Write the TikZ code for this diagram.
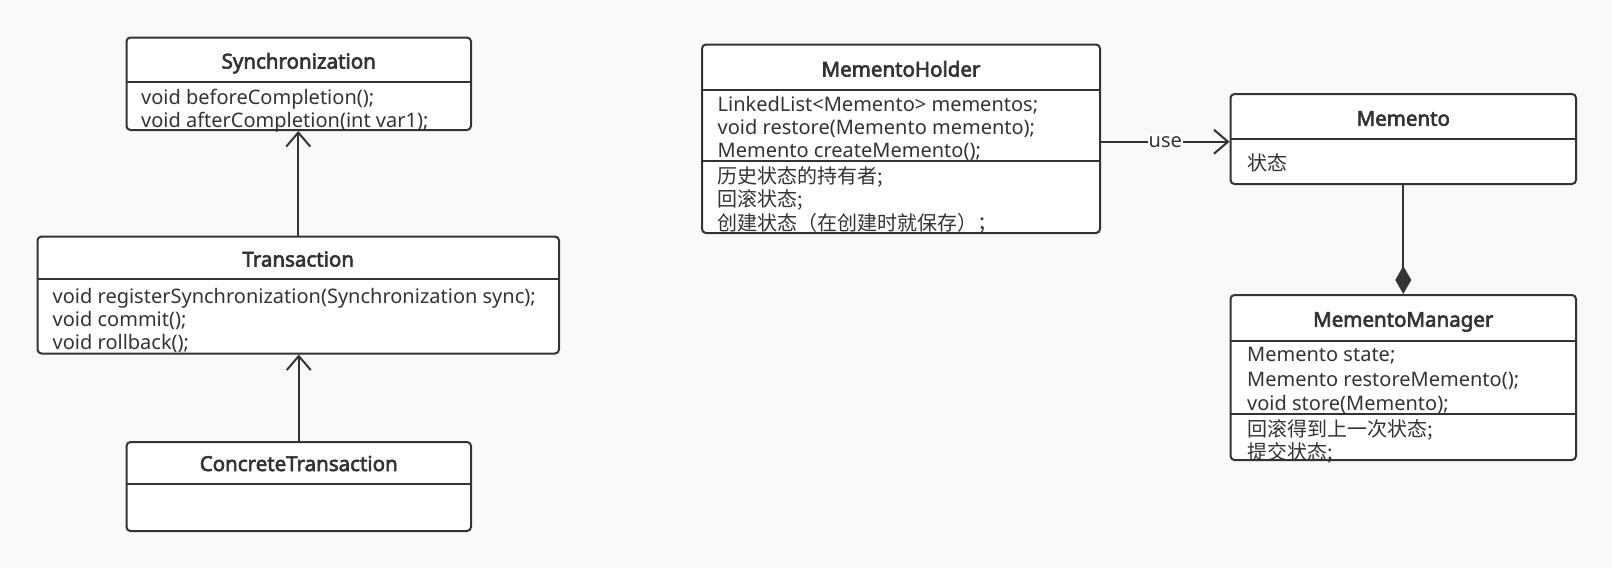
\documentclass[tikz,border=0pt]{standalone}
\usepackage{fontspec}
\setmainfont{Noto Sans}
\newfontfamily\cjk{Noto Sans CJK SC}
\newfontfamily\titlefont{Noto Sans}[FakeBold=3]
\usetikzlibrary{arrows.meta}
\definecolor{umlline}{HTML}{333333}
\definecolor{umlbg}{HTML}{F9F9F9}

\begin{document}
\begin{tikzpicture}[x=1pt,y=-1pt,
  classbox/.style={draw=umlline,line width=2pt,fill=white,rounded corners=4pt,inner sep=0pt},
  ctitle/.style={anchor=base,font=\fontsize{20.5}{24}\titlefont,text=umlline,inner sep=0pt},
  member/.style={anchor=base west,font=\fontsize{20}{24}\selectfont,text=umlline,inner sep=0pt},
  sep/.style={draw=umlline,line width=2pt},
  inherit/.style={draw=umlline,line width=2pt,-{Straight Barb[length=14pt,width=24pt,line width=2pt]}},
  compose/.style={draw=umlline,line width=2pt,{Diamond[length=28pt,width=16pt]}-}]
\fill[umlbg] (0,0) rectangle (1612,568);

% left column
\node[classbox,minimum width=344.5pt,minimum height=92.5pt] (sync) at (298.75,83.75) {};
\draw[sep] ([yshift=-45pt]sync.north west) -- ([yshift=-45pt]sync.north east);
\node[ctitle] (syncT) at (298.75,68.5) {Synchronization};
\node[member] (sync1) at (141,104) {void beforeCompletion();};
\node[member] (sync2) at (141,127) {void afterCompletion(int var1);};

\node[classbox,minimum width=521.5pt,minimum height=117pt] (trans) at (298.25,295) {};
\draw[sep] ([yshift=-43.5pt]trans.north west) -- ([yshift=-43.5pt]trans.north east);
\node[ctitle] (transT) at (298.25,266.5) {Transaction};
\node[member] (trans1) at (52.5,303) {void registerSynchronization(Synchronization sync);};
\node[member] (trans2) at (52.5,326) {void commit();};
\node[member] (trans3) at (52.5,349) {void rollback();};

\node[classbox,minimum width=344.5pt,minimum height=89pt] (ctrans) at (298.75,486.5) {};
\draw[sep] ([yshift=-42.5pt]ctrans.north west) -- ([yshift=-42.5pt]ctrans.north east);
\node[ctitle] (ctransT) at (298.75,471) {ConcreteTransaction};

\draw[inherit] (trans.north) -- (trans.north |- sync.south);
\draw[inherit] (ctrans.north) -- (ctrans.north |- trans.south);

% right part
\node[classbox,minimum width=398pt,minimum height=188.5pt] (holder) at (901,138.75) {};
\draw[sep] ([yshift=-46.5pt]holder.north west) -- ([yshift=-46.5pt]holder.north east);
\draw[sep] ([yshift=-117.5pt]holder.north west) -- ([yshift=-117.5pt]holder.north east);
\node[ctitle] (holderT) at (901,76.5) {MementoHolder};
\node[member] (holder1) at (717.5,111) {LinkedList<Memento> mementos;};
\node[member] (holder2) at (717.5,134) {void restore(Memento memento);};
\node[member] (holder3) at (717.5,157) {Memento createMemento();};
\node[member] (holder4) at (717.5,183.5) {\cjk 历史状态的持有者;};
\node[member] (holder5) at (717.5,206.5) {\cjk 回滚状态;};
\node[member] (holder6) at (717.5,230) {\cjk 创建状态（在创建时就保存）；};

\node[classbox,minimum width=345.5pt,minimum height=90pt] (memento) at (1403.25,139) {};
\draw[sep] ([yshift=-45.5pt]memento.north west) -- ([yshift=-45.5pt]memento.north east);
\node[ctitle] (mementoT) at (1403.25,125.7) {Memento};
\node[member] (memento1) at (1247,170) {\cjk 状态};

\node[classbox,minimum width=345.5pt,minimum height=165pt] (manager) at (1403.25,377.5) {};
\draw[sep] ([yshift=-46.5pt]manager.north west) -- ([yshift=-46.5pt]manager.north east);
\draw[sep] ([yshift=-120pt]manager.north west) -- ([yshift=-120pt]manager.north east);
\node[ctitle] (managerT) at (1403.25,326.7) {MementoManager};
\node[member] (manager1) at (1247,361.5) {Memento state;};
\node[member] (manager2) at (1247,386) {Memento restoreMemento();};
\node[member] (manager3) at (1247,410) {void store(Memento);};
\node[member] (manager4) at (1247,436) {\cjk 回滚得到上一次状态;};
\node[member] (manager5) at (1247,459) {\cjk 提交状态;};

\draw[inherit] ([yshift=-3pt]holder.east) -- node[fill=white,inner sep=1pt,font=\fontsize{20}{24}\selectfont,text=umlline] (use) {use} ([yshift=-3pt]holder.east -| memento.west);
\draw[compose] (manager.north) -- (memento.south);
\end{tikzpicture}
\end{document}
